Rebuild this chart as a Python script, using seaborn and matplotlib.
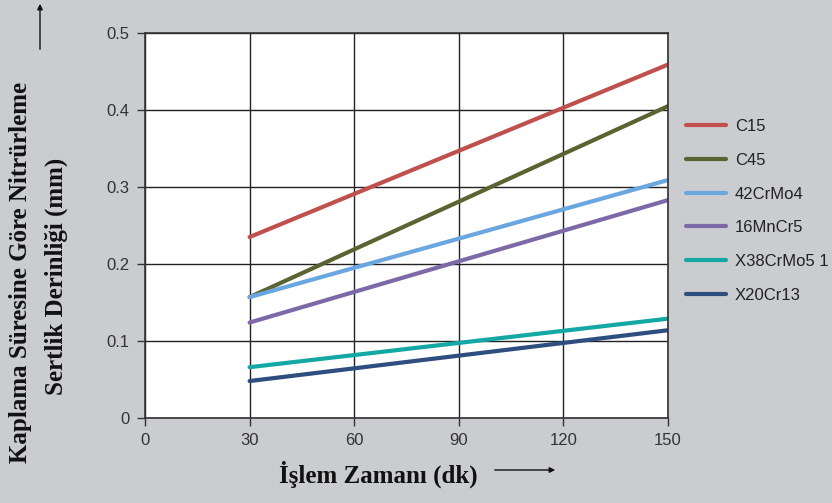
import matplotlib
matplotlib.use('Agg')
import matplotlib.pyplot as plt
import seaborn as sns
import pandas as pd

# values (straight lines from 30 to 150 dk)
times = [30, 150]
steels = ['C15', 'C45', '42CrMo4', '16MnCr5', 'X38CrMo5 1', 'X20Cr13']
depth_c15 = [0.235, 0.459]
depth_c45 = [0.157, 0.405]
depth_42crmo4 = [0.157, 0.309]
depth_16mncr5 = [0.124, 0.283]
depth_x38 = [0.066, 0.129]
depth_x20 = [0.048, 0.114]
colors = ['#c0504d', '#5a6332', '#6aa6e0', '#7d68a8', '#14a8a4', '#2d4e7e']

all_depths = [depth_c15, depth_c45, depth_42crmo4, depth_16mncr5, depth_x38, depth_x20]
rows = []
for name, vals in zip(steels, all_depths):
    for t, v in zip(times, vals):
        rows.append({'t': t, 'depth': v, 'steel': name})
df = pd.DataFrame(rows)

sns.set_style('white')
plt.rcParams['font.family'] = ['Liberation Sans', 'DejaVu Sans']

fig = plt.figure(figsize=(8.32, 5.03), dpi=100, facecolor='#cbcccf')
ax = fig.add_axes([145 / 832, 1 - 418 / 503, 523 / 832, 385 / 503])
ax.set_facecolor('white')

sns.lineplot(data=df, x='t', y='depth', hue='steel', hue_order=steels,
             palette=dict(zip(steels, colors)), linewidth=3, ax=ax)

ax.set_xlim(0, 150)
ax.set_ylim(0, 0.5)
ax.set_xticks([0, 30, 60, 90, 120, 150])
ax.set_xticklabels(['0', '30', '60', '90', '120', '150'])
ax.set_yticks([0, 0.1, 0.2, 0.3, 0.4, 0.5])
ax.set_yticklabels(['0', '0.1', '0.2', '0.3', '0.4', '0.5'])
ax.grid(True, color='#222222', linewidth=1)
for s in ax.spines.values():
    s.set_color('#333333')
    s.set_linewidth(1.2)
ax.tick_params(direction='out', length=6, width=1, color='#333333',
               labelsize=12, labelcolor='#333333', pad=5,
               bottom=True, left=True)
ax.set_xlabel('')
ax.set_ylabel('')

leg = ax.legend(loc='upper left', bbox_to_anchor=(1.005, 0.815), frameon=False,
                fontsize=12, handlelength=2.4, labelspacing=1.12,
                handletextpad=0.55)
for t in leg.get_texts():
    t.set_color('#222222')

serif = ['Liberation Serif', 'DejaVu Serif']
fig.text(21 / 832, 1 - 272 / 503, 'Kaplama Süresine Göre Nitrürleme',
         rotation=90, ha='center', va='center', fontsize=18,
         fontweight='bold', family=serif, color='#111111')
fig.text(56 / 832, 1 - 276 / 503, 'Sertlik Derinliği (mm)',
         rotation=90, ha='center', va='center', fontsize=18,
         fontweight='bold', family=serif, color='#111111')
fig.text(378 / 832, 1 - 474 / 503, 'İşlem Zamanı (dk)', ha='center',
         va='center', fontsize=18, fontweight='bold', family=serif,
         color='#111111')

fig.add_artist(matplotlib.patches.FancyArrowPatch(
    (40 / 832, 1 - 52 / 503), (40 / 832, 1 - 1 / 503),
    transform=fig.transFigure, arrowstyle='-|>', mutation_scale=8,
    color='#111111', linewidth=1))
fig.add_artist(matplotlib.patches.FancyArrowPatch(
    (492 / 832, 1 - 470 / 503), (558 / 832, 1 - 470 / 503),
    transform=fig.transFigure, arrowstyle='-|>', mutation_scale=8,
    color='#111111', linewidth=1))

fig.savefig('out.png', dpi=100, facecolor=fig.get_facecolor())
